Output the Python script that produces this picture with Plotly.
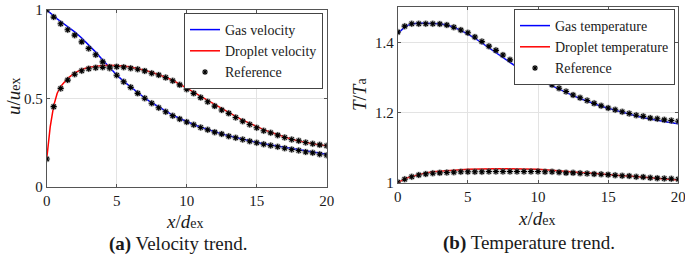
import plotly.graph_objects as go

# ---------------- data ----------------
x_model = [0, 0.25, 0.5, 0.75, 1, 1.5, 2, 2.5, 3, 3.5, 4, 4.5, 5, 5.5, 6, 6.5, 7, 7.5, 8, 8.5, 9, 9.5,
           10, 10.5, 11, 11.5, 12, 12.5, 13, 13.5, 14, 14.5, 15, 15.5, 16, 16.5, 17, 17.5, 18, 18.5, 19, 19.5, 20]
gas_velocity = [1.0, 0.982, 0.965, 0.95, 0.935, 0.906, 0.876, 0.842, 0.803, 0.762, 0.718, 0.674, 0.633,
                0.597, 0.564, 0.532, 0.503, 0.476, 0.451, 0.428, 0.406, 0.387, 0.369, 0.353, 0.338, 0.324,
                0.311, 0.300, 0.289, 0.279, 0.270, 0.261, 0.252, 0.244, 0.237, 0.230, 0.223, 0.216, 0.210,
                0.203, 0.197, 0.191, 0.185]
droplet_velocity = [0.158, 0.34, 0.46, 0.53, 0.568, 0.614, 0.645, 0.664, 0.676, 0.683, 0.687, 0.688, 0.687,
                    0.684, 0.678, 0.670, 0.660, 0.648, 0.635, 0.620, 0.603, 0.582, 0.559, 0.536, 0.512, 0.489,
                    0.465, 0.442, 0.420, 0.399, 0.378, 0.359, 0.341, 0.324, 0.309, 0.295, 0.282, 0.270, 0.260,
                    0.251, 0.244, 0.238, 0.233]
gas_temperature = [1.425, 1.435, 1.443, 1.449, 1.452, 1.455, 1.455, 1.455, 1.453, 1.449, 1.443, 1.434, 1.424,
                   1.412, 1.398, 1.384, 1.370, 1.356, 1.342, 1.329, 1.317, 1.306, 1.296, 1.286, 1.276, 1.266,
                   1.257, 1.248, 1.240, 1.232, 1.225, 1.218, 1.212, 1.206, 1.200, 1.195, 1.190, 1.185, 1.181,
                   1.177, 1.174, 1.171, 1.168]
droplet_temperature = [1.0, 1.006, 1.011, 1.015, 1.018, 1.024, 1.028, 1.031, 1.033, 1.035, 1.036, 1.037, 1.038,
                       1.039, 1.039, 1.040, 1.040, 1.040, 1.040, 1.040, 1.040, 1.039, 1.038, 1.037, 1.035, 1.034,
                       1.032, 1.031, 1.029, 1.028, 1.026, 1.025, 1.023, 1.022, 1.020, 1.019, 1.017, 1.015, 1.014,
                       1.012, 1.011, 1.009, 1.008]

x_ref = [i * 0.5 for i in range(41)]
ref_gas_velocity = [1.0, 0.96, 0.922, 0.888, 0.858, 0.82, 0.783, 0.747, 0.707, 0.671, 0.631, 0.595, 0.563, 0.529,
                    0.501, 0.473, 0.448, 0.425, 0.403, 0.384, 0.367, 0.352, 0.336, 0.323, 0.31, 0.299, 0.287,
                    0.278, 0.268, 0.259, 0.25, 0.242, 0.234, 0.227, 0.219, 0.212, 0.206, 0.198, 0.193, 0.185, 0.18]
ref_droplet_velocity = [0.158, 0.454, 0.557, 0.604, 0.637, 0.657, 0.668, 0.674, 0.676, 0.678, 0.68, 0.677, 0.671,
                        0.665, 0.656, 0.643, 0.633, 0.618, 0.6, 0.577, 0.552, 0.529, 0.505, 0.482, 0.457, 0.435,
                        0.416, 0.393, 0.372, 0.353, 0.335, 0.318, 0.306, 0.293, 0.28, 0.268, 0.261, 0.251, 0.244,
                        0.238, 0.233]
ref_gas_temperature = [1.429, 1.446, 1.453, 1.453, 1.453, 1.453, 1.452, 1.449, 1.443, 1.435, 1.427, 1.415, 1.402,
                       1.389, 1.377, 1.364, 1.35, 1.337, 1.326, 1.312, 1.301, 1.29, 1.279, 1.269, 1.26, 1.25,
                       1.242, 1.234, 1.226, 1.219, 1.213, 1.208, 1.202, 1.197, 1.192, 1.189, 1.184, 1.182, 1.179,
                       1.177, 1.175]
ref_droplet_temperature = [1.001, 1.01, 1.017, 1.022, 1.025, 1.027, 1.028, 1.029, 1.03, 1.031, 1.031, 1.031, 1.031,
                           1.032, 1.032, 1.032, 1.032, 1.032, 1.032, 1.032, 1.032, 1.031, 1.031, 1.03, 1.028,
                           1.028, 1.027, 1.026, 1.025, 1.024, 1.023, 1.021, 1.02, 1.019, 1.017, 1.016, 1.014,
                           1.013, 1.012, 1.011, 1.01]

x_ticks = [0, 5, 10, 15, 20]
u_ticks = [0, 0.5, 1]
u_tick_labels = ["0", "0.5", "1"]
T_ticks = [1, 1.2, 1.4]
T_tick_labels = ["1", "1.2", "1.4"]

# ---------------- figure ----------------
W, H = 685, 257
SERIF = "Liberation Serif"
BLUE, RED = "#0000ff", "#ff0000"
TXT = "#1a1a1a"

fig = go.Figure()


def add_ref(x, y, xa, ya, legend, show):
    # soft gray halo under each asterisk
    fig.add_trace(go.Scatter(x=x, y=y, mode="markers", xaxis=xa, yaxis=ya, legend=legend,
                             marker=dict(symbol="circle", size=7, color="rgba(140,140,140,0.45)",
                                         line=dict(width=0)),
                             showlegend=False, hoverinfo="skip"))
    fig.add_trace(go.Scatter(x=x, y=y, mode="markers", xaxis=xa, yaxis=ya, legend=legend,
                             name="Reference", showlegend=show,
                             marker=dict(symbol="asterisk-open", size=5, color="black",
                                         line=dict(width=1.1, color="black"))))


fig.add_trace(go.Scatter(x=x_model, y=gas_velocity, mode="lines", name="Gas velocity",
                         line=dict(color=BLUE, width=1.5), xaxis="x", yaxis="y", legend="legend"))
fig.add_trace(go.Scatter(x=x_model, y=droplet_velocity, mode="lines", name="Droplet velocity",
                         line=dict(color=RED, width=1.5), xaxis="x", yaxis="y", legend="legend"))
add_ref(x_ref, ref_gas_velocity, "x", "y", "legend", True)
add_ref(x_ref, ref_droplet_velocity, "x", "y", "legend", False)

fig.add_trace(go.Scatter(x=x_model, y=gas_temperature, mode="lines", name="Gas temperature",
                         line=dict(color=BLUE, width=1.5), xaxis="x2", yaxis="y2", legend="legend2"))
fig.add_trace(go.Scatter(x=x_model, y=droplet_temperature, mode="lines", name="Droplet temperature",
                         line=dict(color=RED, width=1.5), xaxis="x2", yaxis="y2", legend="legend2"))
add_ref(x_ref, ref_gas_temperature, "x2", "y2", "legend2", True)
add_ref(x_ref, ref_droplet_temperature, "x2", "y2", "legend2", False)


def px_x(p):
    return p / W


def px_y(p):
    return 1 - p / H


axis_common = dict(showline=True, linecolor="#555555", linewidth=1, mirror="ticks",
                   ticks="inside", ticklen=3, tickcolor="#555555", automargin=False,
                   ticklabeloverflow="allow",
                   showgrid=True, gridcolor="#e3e3e3", gridwidth=1, zeroline=False,
                   tickfont=dict(family=SERIF, size=15, color=TXT))

legend_common = dict(xanchor="right", yanchor="top", bgcolor="white", bordercolor="#444444", borderwidth=1,
                     font=dict(family=SERIF, size=14, color=TXT), tracegroupgap=0, itemwidth=30)

fig.update_layout(
    template="none",
    width=W, height=H, autosize=False,
    margin=dict(l=0, r=0, t=0, b=0, pad=0, autoexpand=False),
    paper_bgcolor="white", plot_bgcolor="white",
    showlegend=True,
    xaxis=dict(domain=[px_x(46.7), px_x(326.7)], range=[0, 20], tickvals=x_ticks, anchor="y", **axis_common),
    yaxis=dict(domain=[px_y(187), px_y(10)], range=[0, 1], tickvals=u_ticks, ticktext=u_tick_labels,
               anchor="x", **axis_common),
    xaxis2=dict(domain=[px_x(397.7), px_x(678.3)], range=[0, 20], tickvals=x_ticks, anchor="y2", **axis_common),
    yaxis2=dict(domain=[px_y(182.7), px_y(7.2)], range=[1, 1.5], tickvals=T_ticks, ticktext=T_tick_labels,
                anchor="x2", **axis_common),
    legend=dict(x=px_x(323), y=px_y(13), **legend_common),
    legend2=dict(x=px_x(675), y=px_y(9), **legend_common),
)

title_font = dict(family=SERIF, size=19, color=TXT)
cap_font = dict(family=SERIF, size=19, color=TXT)
annotations = [
    dict(text="<i>x</i>/<i>d</i><span style='font-size:14px'>ex</span>", x=px_x(184), y=px_y(221),
         font=title_font),
    dict(text="<i>x</i>/<i>d</i><span style='font-size:14px'>ex</span>", x=px_x(536), y=px_y(218),
         font=title_font),
    dict(text="<i>u</i>/<i>u</i><span style='font-size:14px'>ex</span>", x=px_x(13), y=px_y(96),
         font=title_font, textangle=-90),
    dict(text="<i>T</i>/<i>T</i><span style='font-size:14px'>a</span>", x=px_x(359), y=px_y(95),
         font=title_font, textangle=-90),
    dict(text="<b>(a)</b> Velocity trend.", x=px_x(178), y=px_y(244), font=cap_font),
    dict(text="<b>(b)</b> Temperature trend.", x=px_x(529), y=px_y(243), font=cap_font),
]
for a in annotations:
    a.update(xref="paper", yref="paper", showarrow=False, xanchor="center", yanchor="middle")
fig.update_layout(annotations=annotations)

fig.write_html("out.html", config={"displayModeBar": False},
               post_script="document.body.style.margin='0';document.body.style.overflow='hidden';")
